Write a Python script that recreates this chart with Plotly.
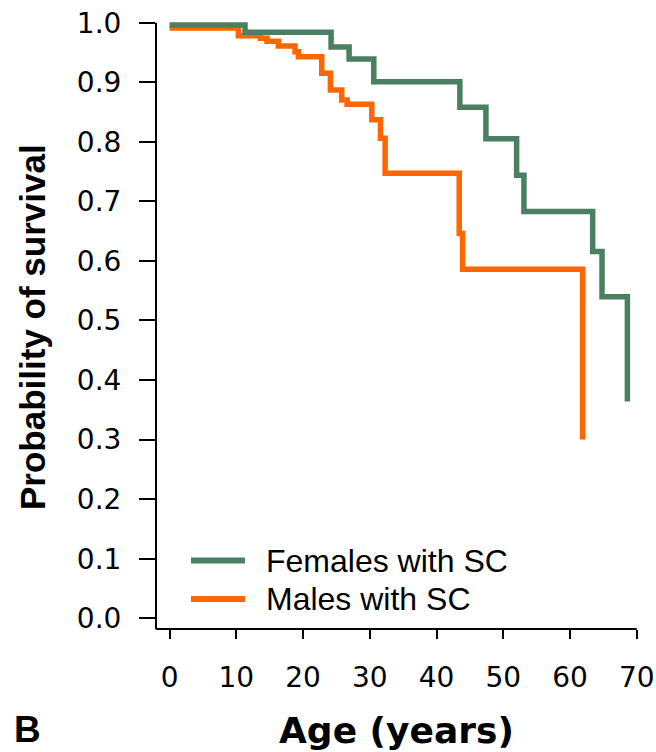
import plotly.graph_objects as go

# ---- data ----
female_age = [0, 11.3, 24.2, 26.9, 30.6, 43.5, 47.4, 52.0, 53.1, 63.4, 64.8, 68.6]
female_surv = [0.996, 0.984, 0.959, 0.939, 0.901, 0.858, 0.805, 0.744, 0.683, 0.616, 0.540, 0.364]

male_age = [0, 10.3, 13.6, 14.6, 16.3, 18.8, 19.3, 22.8, 24.1, 25.8, 26.6, 30.3, 31.6, 32.3, 43.4, 43.9, 61.9]
male_surv = [0.991, 0.978, 0.974, 0.969, 0.961, 0.951, 0.943, 0.915, 0.887, 0.870, 0.863, 0.837, 0.806, 0.747, 0.646, 0.586, 0.300]

x_ticks = [0, 10, 20, 30, 40, 50, 60, 70]
y_ticks = [0.0, 0.1, 0.2, 0.3, 0.4, 0.5, 0.6, 0.7, 0.8, 0.9, 1.0]
series_names = ["Females with SC", "Males with SC"]
series_colors = ["#4A7F62", "#FF6600"]

# ---- layout geometry (pixels) ----
W, H = 656, 752
ML, MR, MT, MB = 156, 12, 10, 123
PW, PH = W - ML - MR, H - MT - MB
XR = [-2.037, 71.09]
YR = [-0.018, 1.0213]

def px_x(p):
    return (p - ML) / PW

def px_y(p):
    return (H - MB - p) / PH

fig = go.Figure()
fig.add_trace(go.Scatter(x=male_age, y=male_surv, mode="lines", name=series_names[1],
                         line=dict(shape="hv", color=series_colors[1], width=5.5)))
fig.add_trace(go.Scatter(x=female_age, y=female_surv, mode="lines", name=series_names[0],
                         line=dict(shape="hv", color=series_colors[0], width=5.5)))

tickfont = dict(family="DejaVu Sans", size=28, color="black")
fig.update_layout(
    width=W, height=H, autosize=False,
    margin=dict(l=ML, r=MR, t=MT, b=MB, pad=0, autoexpand=False),
    paper_bgcolor="white", plot_bgcolor="white",
    showlegend=False,
    xaxis=dict(range=XR, tickvals=x_ticks, ticks="outside", ticklen=9, tickwidth=1.5,
               tickcolor="black", showline=False, showgrid=False, zeroline=False,
               tickfont=tickfont, ticklabelstandoff=14, automargin=False),
    yaxis=dict(range=YR, tickvals=y_ticks, tickformat=".1f", ticks="outside", ticklen=16,
               tickwidth=1.5, tickcolor="black", showline=False, showgrid=False,
               zeroline=False, tickfont=tickfont, ticklabelstandoff=12, automargin=False),
)

# axis lines
fig.add_shape(type="line", xref="paper", yref="y", x0=0, x1=0, y0=YR[0], y1=1.0,
              line=dict(color="black", width=2))
fig.add_shape(type="line", xref="x", yref="paper", x0=XR[0], x1=70, y0=0, y1=0,
              line=dict(color="black", width=2))

# legend (drawn manually to match sample length)
leg_y = [560.5, 599]
for name, color, yy in zip(series_names, series_colors, leg_y):
    fig.add_shape(type="line", xref="paper", yref="paper", x0=px_x(191), x1=px_x(245),
                  y0=px_y(yy), y1=px_y(yy), line=dict(color=color, width=6))
    fig.add_annotation(text=name, xref="paper", yref="paper", x=px_x(264), y=px_y(yy),
                       xanchor="left", yanchor="middle", showarrow=False,
                       font=dict(family="Liberation Sans", size=32, color="black"))

# axis titles and panel label
fig.add_annotation(text="<b>Age (years)</b>", xref="paper", yref="paper",
                   x=px_x(396), y=px_y(730), xanchor="center", yanchor="middle",
                   showarrow=False, borderpad=0,
                   font=dict(family="DejaVu Sans", size=36, color="black"))
fig.add_annotation(text="<b>Probability of survival</b>", xref="paper", yref="paper",
                   x=px_x(32), y=px_y(327), xanchor="center", yanchor="middle",
                   textangle=-90, showarrow=False,
                   font=dict(family="Liberation Sans", size=35, color="black"))
fig.add_annotation(text="<b>B</b>", xref="paper", yref="paper",
                   x=px_x(27), y=px_y(751), xanchor="center", yanchor="bottom",
                   showarrow=False, borderpad=0,
                   font=dict(family="Liberation Sans", size=37, color="black"))

fig.write_html("out.html",
               config={"displayModeBar": False, "responsive": False},
               post_script="document.body.style.margin='0px';"
                           "document.body.style.overflow='hidden';")
